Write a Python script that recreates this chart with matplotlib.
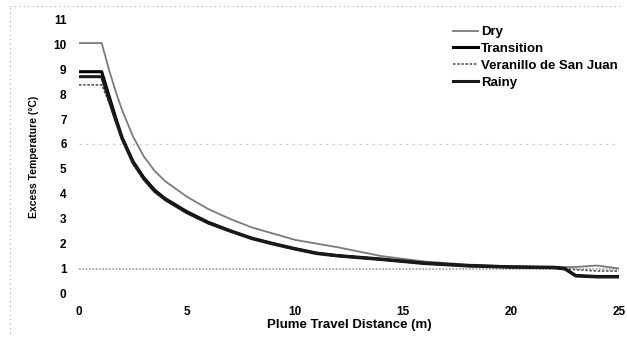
import matplotlib.pyplot as plt
from matplotlib.lines import Line2D

# distance along plume (m)
dist = [0, 1.05, 1.4, 1.7, 2.0, 2.5, 3.0, 3.5, 4, 5, 6, 7, 8, 9, 10, 11, 12,
        14, 16, 18, 20, 22, 22.5, 23, 24, 25]

dry = [10.05, 10.05, 8.95, 8.1, 7.35, 6.3, 5.5, 4.92, 4.5, 3.88, 3.38, 2.99,
       2.65, 2.4, 2.15, 2.0, 1.85, 1.5, 1.28, 1.16, 1.08, 1.06, 1.06, 1.06,
       1.12, 1.0]
transition = [8.9, 8.9, 7.9, 7.05, 6.25, 5.3, 4.65, 4.15, 3.8, 3.28, 2.85, 2.52,
              2.22, 2.0, 1.8, 1.62, 1.52, 1.38, 1.22, 1.12, 1.07, 1.05, 1.0,
              0.72, 0.68, 0.68]
veranillo = [8.37, 8.37, 7.65, 6.9, 6.15, 5.2, 4.55, 4.08, 3.74, 3.22, 2.8,
             2.48, 2.2, 1.98, 1.78, 1.62, 1.52, 1.38, 1.22, 1.12, 1.07, 1.04,
             1.0, 0.95, 0.9, 0.9]
rainy = [8.7, 8.7, 7.75, 6.95, 6.2, 5.25, 4.6, 4.1, 3.76, 3.24, 2.82, 2.5, 2.2,
         1.98, 1.78, 1.6, 1.5, 1.36, 1.2, 1.1, 1.05, 1.03, 0.98, 0.7, 0.66,
         0.66]

threshold = 1.0
xticks = [0, 5, 10, 15, 20, 25]
yticks = list(range(0, 12))

plt.rcParams['font.family'] = ['Liberation Sans', 'DejaVu Sans']

fig = plt.figure(figsize=(6.27, 3.4), dpi=100)
ax = fig.add_axes([0.126, 0.137, 0.861, 0.806])

ax.axhline(threshold, color='#9a9a9a', lw=1.2, ls=(0, (1, 1)), zorder=1)
ax.axhline(6, color='#c8c8c8', lw=0.8, ls=(0, (2, 4)), zorder=1)

ax.plot(dist, dry, color='#7a7a7a', lw=1.3, label='Dry')
ax.plot(dist, transition, color='black', lw=2.2, label='Transition')
ax.plot(dist, veranillo, color='#555555', lw=1.2, ls=(0, (1.5, 1)),
        label='Veranillo de San Juan')
ax.plot(dist, rainy, color='#1a1a1a', lw=2.2, label='Rainy')

ax.set_xlim(0, 25)
ax.set_ylim(0, 11)
ax.set_xticks(xticks)
ax.set_yticks(yticks)
for s in ax.spines.values():
    s.set_visible(False)
ax.tick_params(length=0, labelsize=8.5, pad=9)
for lab in ax.get_xticklabels() + ax.get_yticklabels():
    lab.set_fontweight('bold')

ax.set_xlabel('Plume Travel Distance (m)', fontsize=9.5, fontweight='bold',
              labelpad=1)
ax.set_ylabel('Excess Temperature (\u00b0C)', fontsize=7.5, fontweight='bold',
              labelpad=10)

leg = ax.legend(loc='upper left', bbox_to_anchor=(0.68, 1.0), frameon=False,
                fontsize=9.5, handlelength=1.9, handletextpad=0.25,
                labelspacing=0.35, borderpad=0)
for t in leg.get_texts():
    t.set_fontweight('bold')

# faint dotted border of the chart area
fig.add_artist(Line2D([0.016, 0.016], [0.02, 0.98], color='#aaaaaa', lw=0.8,
                      ls=(0, (1, 3)), transform=fig.transFigure))
fig.add_artist(Line2D([0.016, 0.99], [0.982, 0.982], color='#aaaaaa', lw=0.8,
                      ls=(0, (1, 3)), transform=fig.transFigure))

fig.savefig('out.png', dpi=100)
